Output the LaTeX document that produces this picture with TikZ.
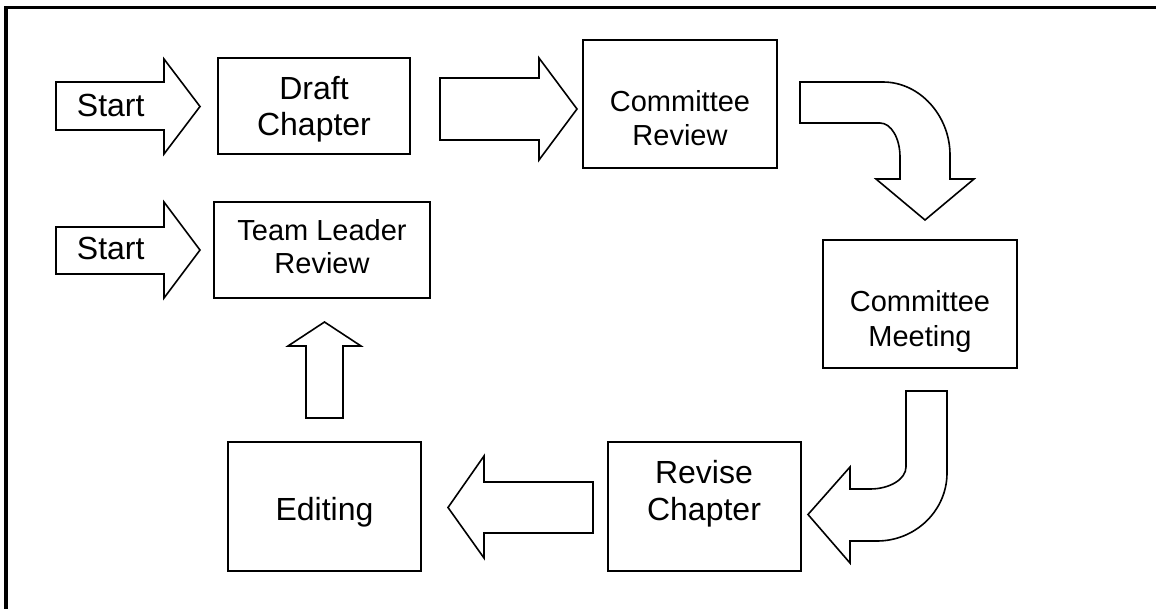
\documentclass[tikz,border=0pt]{standalone}
\usepackage{fontspec}
\setmainfont{Liberation Sans}
\newcommand\FntBig{\fontsize{32}{36.7}\selectfont}
\newcommand\FntCR{\fontsize{29}{34}\selectfont}
\newcommand\FntTL{\fontsize{29}{32.6}\selectfont}
\newcommand\FntCM{\fontsize{29}{34.3}\selectfont}
\newcommand\TwoLines[2]{\begin{tabular}[t]{@{}c@{}}#1\\#2\end{tabular}}
\begin{document}
\begin{tikzpicture}[x=1pt,y=-1pt,
  box/.style={draw=black, line width=1.6pt, fill=white, inner sep=0pt},
  blk/.style={draw=black, line width=1.6pt, fill=white, line join=miter},
  lbl/.style={anchor=base, inner sep=0pt, text=black},
  frame/.style={draw=black, line width=3.6pt, line join=miter}
]
\path[use as bounding box] (0,0) rectangle (1156,608);
\fill[white] (0,0) rectangle (1156,608);
% outer frame (left and top edges)
\draw[frame] (6,612) -- (6,7.5) -- (1160,7.5);

% boxes
\node[box, minimum width=192pt, minimum height=96pt]  (draft)   at (314,106)   {};
\node[box, minimum width=194pt, minimum height=128pt] (crev)    at (680,104)   {};
\node[box, minimum width=216pt, minimum height=96pt]  (tlrev)   at (322,250)   {};
\node[box, minimum width=194pt, minimum height=128pt] (cmeet)   at (920,304)   {};
\node[box, minimum width=193pt, minimum height=129pt] (revise)  at (704.5,506.5) {};
\node[box, minimum width=193pt, minimum height=129pt] (editing) at (324.5,506.5) {};

% box texts
\node[lbl, font=\FntBig] (draftT)  at (314,99)     {\TwoLines{Draft}{Chapter}};
\node[lbl, font=\FntCR]  (crevT)   at (680,111.7)  {\TwoLines{Committee}{Review}};
\node[lbl, font=\FntTL]  (tlrevT)  at (322,240.7)  {\TwoLines{Team Leader}{Review}};
\node[lbl, font=\FntCM]  (cmeetT)  at (920,311.7)  {\TwoLines{Committee}{Meeting}};
\node[lbl, font=\FntBig] (reviseT) at (704,483.3)  {\TwoLines{Revise}{Chapter}};
\node[lbl, font=\FntBig] (editT)   at (324.5,520)  {Editing};

% start arrows
\draw[blk] (56,82) -- (164,82) -- (164,59) -- (200,106.5) -- (164,154) -- (164,130) -- (56,130) -- cycle;
\node[lbl, font=\FntBig] (start1) at (110.7,116.3) {Start};
\draw[blk] (56,227) -- (164,227) -- (164,202) -- (200,250) -- (164,298) -- (164,274) -- (56,274) -- cycle;
\node[lbl, font=\FntBig] (start2) at (110.7,259.5) {Start};

% draft -> committee review
\draw[blk] (440,78) -- (539,78) -- (539,58) -- (577,109) -- (539,160) -- (539,140) -- (440,140) -- cycle;

% committee review -> committee meeting (curved)
\draw[blk] (800,82) -- (883,82)
  .. controls (920,82) and (950,116) .. (950,155)
  -- (950,179) -- (974,179) -- (925,220) -- (876,179) -- (900,179) -- (900,157)
  .. controls (900,138) and (891,123) .. (880,123)
  -- (800,123) -- cycle;

% committee meeting -> revise chapter (curved)
\draw[blk] (906,391) -- (947,391) -- (947,473)
  .. controls (947,510.5) and (915.6,541) .. (877,541)
  -- (850,541) -- (850,563) -- (808,514.5) -- (850,467) -- (850,489) -- (870,489)
  .. controls (890,489) and (906,479) .. (906,467)
  -- cycle;

% revise chapter -> editing
\draw[blk] (593,482) -- (593,533) -- (484,533) -- (484,558) -- (448,507.5) -- (484,456) -- (484,482) -- cycle;

% editing -> team leader review
\draw[blk] (306,418) -- (343,418) -- (343,346) -- (361,346) -- (324.5,322) -- (288,346) -- (306,346) -- cycle;
\end{tikzpicture}
\end{document}
